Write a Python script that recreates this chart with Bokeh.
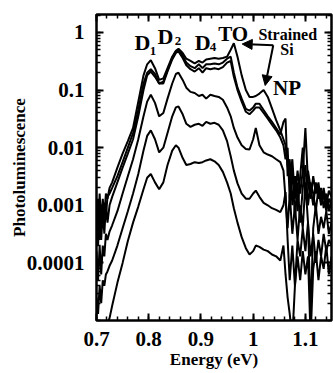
from bokeh.plotting import figure
from bokeh.models import (FixedTicker, CustomJSTickFormatter, LogAxis, LinearAxis,
                          Label, Arrow, NormalHead)
from bokeh.embed import file_html
from bokeh.resources import INLINE

# ---------------- data ----------------
energy = [0.700, 0.703, 0.706, 0.709, 0.712, 0.715, 0.718, 0.721, 0.725, 0.730,
          0.740, 0.750, 0.760, 0.770, 0.780, 0.790, 0.797, 0.804, 0.812, 0.820,
          0.828, 0.836, 0.845, 0.852, 0.857, 0.865, 0.872, 0.880, 0.888, 0.896,
          0.903, 0.910, 0.918, 0.926, 0.934, 0.942, 0.950, 0.957, 0.963, 0.970,
          0.978, 0.986, 0.993, 1.000, 1.005, 1.012, 1.020, 1.028, 1.036, 1.044,
          1.052, 1.058, 1.062, 1.066, 1.070, 1.075, 1.080, 1.085, 1.090, 1.095,
          1.100, 1.105, 1.110, 1.115, 1.120, 1.125, 1.130, 1.135, 1.140, 1.145,
          1.150]

pl_1 = [1.0e-3, 3.2e-4, 1.6e-3, 5.0e-4, 1.3e-3, 6.3e-4, 1.6e-3, 1.3e-3, 2.0e-3, 2.5e-3,
        4.5e-3, 7.9e-3, 1.3e-2, 2.2e-2, 6.3e-2, 0.18, 0.28, 0.33, 0.24, 0.15,
        0.16, 0.24, 0.38, 0.48, 0.52, 0.44, 0.35, 0.32, 0.29, 0.32,
        0.30, 0.34, 0.35, 0.36, 0.35, 0.36, 0.38, 0.50, 0.65, 0.38,
        0.18, 0.10, 0.076, 0.076, 0.079, 0.087, 0.10, 0.076, 0.048, 0.030,
        0.020, 0.014, 0.011, 5.0e-3, 2.5e-3, 6.3e-3, 1.3e-3, 4.0e-3, 1.6e-3, 4.0e-3,
        2.2e-2, 2.5e-3, 1.3e-3, 3.2e-3, 1.6e-3, 2.5e-3, 1.1e-3, 2.0e-3, 1.0e-3, 1.8e-3,
        1.4e-3]

pl_2 = [4.0e-4, 1.3e-3, 2.5e-4, 1.0e-3, 4.0e-4, 1.1e-3, 6.3e-4, 1.4e-3, 1.6e-3, 2.0e-3,
        3.2e-3, 5.6e-3, 1.0e-2, 1.8e-2, 4.5e-2, 0.13, 0.20, 0.23, 0.19, 0.13,
        0.14, 0.22, 0.36, 0.47, 0.50, 0.40, 0.30, 0.26, 0.24, 0.28,
        0.24, 0.28, 0.28, 0.29, 0.28, 0.30, 0.35, 0.38, 0.20, 0.11,
        0.071, 0.047, 0.044, 0.050, 0.058, 0.058, 0.045, 0.035, 0.028, 0.022,
        0.017, 0.028, 0.032, 3.2e-3, 6.3e-3, 1.0e-3, 3.2e-3, 7.9e-4, 3.2e-3, 1.0e-2,
        1.3e-3, 4.0e-3, 2.0e-3, 1.0e-3, 2.5e-3, 1.3e-3, 2.0e-3, 8.9e-4, 1.6e-3, 7.9e-4,
        1.3e-3]

pl_3 = [6.3e-4, 2.0e-4, 7.9e-4, 2.5e-4, 7.9e-4, 3.2e-4, 1.0e-3, 5.0e-4, 1.0e-3, 1.4e-3,
        2.5e-3, 4.5e-3, 7.9e-3, 1.4e-2, 3.5e-2, 0.10, 0.18, 0.21, 0.17, 0.13,
        0.13, 0.21, 0.34, 0.44, 0.47, 0.36, 0.27, 0.23, 0.21, 0.24,
        0.20, 0.24, 0.23, 0.24, 0.23, 0.25, 0.30, 0.32, 0.17, 0.10,
        0.063, 0.042, 0.038, 0.044, 0.050, 0.050, 0.040, 0.032, 0.025, 0.020,
        0.015, 0.011, 6.3e-3, 1.0e-2, 1.3e-3, 4.0e-3, 6.3e-4, 2.5e-3, 5.0e-4, 2.0e-3,
        5.0e-3, 1.0e-3, 2.5e-3, 1.6e-3, 7.9e-4, 2.0e-3, 1.0e-3, 1.6e-3, 7.9e-4, 1.3e-3,
        1.0e-3]

pl_4 = [1.6e-4, 5.0e-5, 2.0e-4, 6.3e-5, 2.0e-4, 1.3e-4, 3.2e-4, 2.5e-4, 3.5e-4, 4.5e-4,
        7.9e-4, 1.6e-3, 3.2e-3, 6.3e-3, 1.4e-2, 3.5e-2, 6.3e-2, 0.083, 0.060, 0.035,
        0.040, 0.071, 0.13, 0.19, 0.20, 0.15, 0.11, 0.093, 0.089, 0.079,
        0.083, 0.071, 0.083, 0.079, 0.076, 0.068, 0.050, 0.035, 0.022, 0.015,
        0.011, 9.5e-3, 9.3e-3, 1.4e-2, 2.2e-2, 1.1e-2, 8.3e-3, 7.6e-3, 7.1e-3, 6.3e-3,
        5.6e-3, 4.0e-3, 1.3e-3, 4.0e-4, 1.6e-3, 3.2e-4, 1.0e-3, 2.5e-4, 1.0e-3, 4.0e-4,
        2.5e-3, 5.0e-4, 1.3e-5, 4.0e-4, 1.0e-3, 3.2e-4, 6.3e-4, 4.0e-4, 7.9e-4, 3.2e-4,
        5.0e-4]

pl_5 = [2.5e-5, 1.3e-5, 4.0e-5, 2.0e-5, 5.0e-5, 4.0e-5, 6.3e-5, 7.1e-5, 8.9e-5, 1.1e-4,
        2.0e-4, 4.0e-4, 7.9e-4, 1.6e-3, 3.5e-3, 8.9e-3, 1.6e-2, 2.0e-2, 1.4e-2, 8.3e-3,
        1.0e-2, 1.8e-2, 3.5e-2, 5.0e-2, 5.2e-2, 3.8e-2, 2.6e-2, 2.3e-2, 2.5e-2, 2.6e-2,
        2.4e-2, 2.8e-2, 2.6e-2, 2.7e-2, 2.5e-2, 2.0e-2, 1.3e-2, 7.1e-3, 4.0e-3, 2.4e-3,
        1.6e-3, 1.3e-3, 1.3e-3, 1.6e-3, 1.8e-3, 1.4e-3, 1.1e-3, 1.0e-3, 8.9e-4, 8.3e-4,
        7.6e-4, 1.0e-3, 1.7e-3, 2.5e-4, 5.0e-5, 2.0e-4, 4.0e-5, 2.5e-4, 1.3e-4, 4.0e-4,
        1.6e-4, 5.0e-4, 1.3e-4, 3.2e-4, 1.0e-4, 2.5e-4, 1.3e-4, 3.2e-4, 1.6e-4, 2.5e-4,
        2.0e-4]

pl_6 = [3.0e-6, 3.0e-6, 3.0e-6, 3.0e-6, 3.0e-6, 4.0e-6, 6.0e-6, 9.0e-6, 1.1e-5, 1.8e-5,
        4.5e-5, 1.0e-4, 2.4e-4, 5.0e-4, 9.5e-4, 1.9e-3, 3.0e-3, 3.5e-3, 2.5e-3, 1.9e-3,
        2.5e-3, 5.0e-3, 8.9e-3, 1.1e-2, 1.0e-2, 6.6e-3, 5.0e-3, 5.2e-3, 5.6e-3, 5.4e-3,
        5.6e-3, 6.0e-3, 6.3e-3, 5.8e-3, 5.0e-3, 3.8e-3, 2.5e-3, 1.6e-3, 8.9e-4, 5.0e-4,
        2.8e-4, 1.8e-4, 1.4e-4, 1.6e-4, 2.0e-4, 1.9e-4, 1.7e-4, 1.6e-4, 1.4e-4, 1.3e-4,
        1.1e-4, 2.0e-4, 6.3e-5, 2.5e-5, 1.3e-5, 5.0e-6, 4.0e-5, 1.3e-4, 5.0e-5, 1.6e-4,
        6.3e-5, 1.3e-4, 5.0e-6, 7.9e-5, 1.6e-4, 5.0e-5, 1.3e-4, 7.9e-5, 2.0e-4, 6.3e-5,
        1.3e-4]

x_ticks = [0.7, 0.8, 0.9, 1.0, 1.1]
x_tick_labels = ["0.7", "0.8", "0.9", "1", "1.1"]
y_ticks = [1e-4, 1e-3, 1e-2, 1e-1, 1.0]
y_tick_labels = ["0.0001", "0.001", "0.01", "0.1", "1"]

# ---------------- figure ----------------
FONT = "'Liberation Serif', 'Times New Roman', serif"

x_minor = [round(0.70 + 0.02 * i, 2) for i in range(0, 23)]
y_minor = [k * 10.0 ** e for e in range(-5, 1) for k in range(1, 10)]

p = figure(width=333, height=371, x_range=(0.7, 1.15), y_range=(1e-5, 2.05),
           y_axis_type="log", output_backend="svg", toolbar_location=None,
           min_border_left=96, min_border_right=2, min_border_top=14, min_border_bottom=51)
p.background_fill_color = "white"
p.border_fill_color = "white"
p.grid.visible = False
p.outline_line_color = "black"
p.outline_line_width = 2.5

def fmt(tick_values, tick_texts):
    return CustomJSTickFormatter(args=dict(tv=tick_values, tl=tick_texts), code="""
        for (let i = 0; i < tv.length; i++) {
            if (Math.abs(tv[i] - tick) <= 1e-9 * Math.max(1, Math.abs(tv[i]))) return tl[i];
        }
        return '';
    """)

def style(ax, show_labels):
    ax.axis_line_color = None
    ax.major_tick_in = 7
    ax.major_tick_out = 0
    ax.minor_tick_in = 4
    ax.minor_tick_out = 0
    ax.major_tick_line_width = 2
    ax.minor_tick_line_width = 1.5
    ax.major_tick_line_color = "black"
    ax.minor_tick_line_color = "black"
    if show_labels:
        ax.major_label_text_font = FONT
        ax.major_label_text_font_style = "bold"
        ax.major_label_text_font_size = "21px"
        ax.major_label_text_color = "black"
    else:
        ax.major_label_text_font_size = "0px"
        ax.major_label_standoff = 0

xt = FixedTicker(ticks=x_ticks, minor_ticks=x_minor)
yt = FixedTicker(ticks=y_ticks, minor_ticks=y_minor)

p.xaxis.ticker = xt
p.xaxis.formatter = fmt(x_ticks, x_tick_labels)
p.yaxis.ticker = yt
p.yaxis.formatter = fmt(y_ticks, y_tick_labels)
for ax in p.xaxis + p.yaxis:
    style(ax, True)
p.xaxis.major_label_standoff = 11
p.yaxis.major_label_standoff = 12

p.xaxis.axis_label = "Energy (eV)"
p.yaxis.axis_label = "Photoluminescence"
for ax in p.xaxis + p.yaxis:
    ax.axis_label_text_font = FONT
    ax.axis_label_text_font_style = "bold"
    ax.axis_label_text_font_size = "17px"
    ax.axis_label_text_color = "black"
p.xaxis.axis_label_standoff = 1
p.yaxis.axis_label_standoff = -5

top_ax = LinearAxis(ticker=xt, formatter=fmt(x_ticks, ["", "", "", "", ""]))
right_ax = LogAxis(ticker=yt, formatter=fmt(y_ticks, ["", "", "", "", ""]))
style(top_ax, False)
style(right_ax, False)
p.add_layout(top_ax, "above")
p.add_layout(right_ax, "right")

for series in (pl_1, pl_2, pl_3, pl_4, pl_5, pl_6):
    p.line(energy, series, line_color="black", line_width=2)

# ---------------- annotations ----------------
def lab(x, y, t, size):
    p.add_layout(Label(x=x, y=y, text=t, text_font=FONT, text_font_style="bold",
                       text_font_size=size, text_color="black",
                       text_baseline="alphabetic", text_align="left"))

lab(0.773, 0.67, "D", "22px")
lab(0.802, 0.47, "1", "13px")
lab(0.817, 0.85, "D", "22px")
lab(0.850, 0.70, "2", "13px")
lab(0.888, 0.67, "D", "22px")
lab(0.917, 0.57, "4", "13px")
lab(0.933, 0.93, "TO", "21px")
lab(1.010, 0.93, "Strained", "16px")
lab(1.052, 0.51, "Si", "16px")
lab(1.038, 0.11, "NP", "21px")

p.add_layout(Arrow(end=NormalHead(size=10, fill_color="black", line_color="black"),
                   x_start=1.0385, y_start=0.60, x_end=0.979, y_end=0.63,
                   line_color="black", line_width=2))
p.add_layout(Arrow(end=NormalHead(size=10, fill_color="black", line_color="black"),
                   x_start=1.0385, y_start=0.60, x_end=1.023, y_end=0.12,
                   line_color="black", line_width=2))

open("out.html", "w").write(file_html(p, INLINE))
